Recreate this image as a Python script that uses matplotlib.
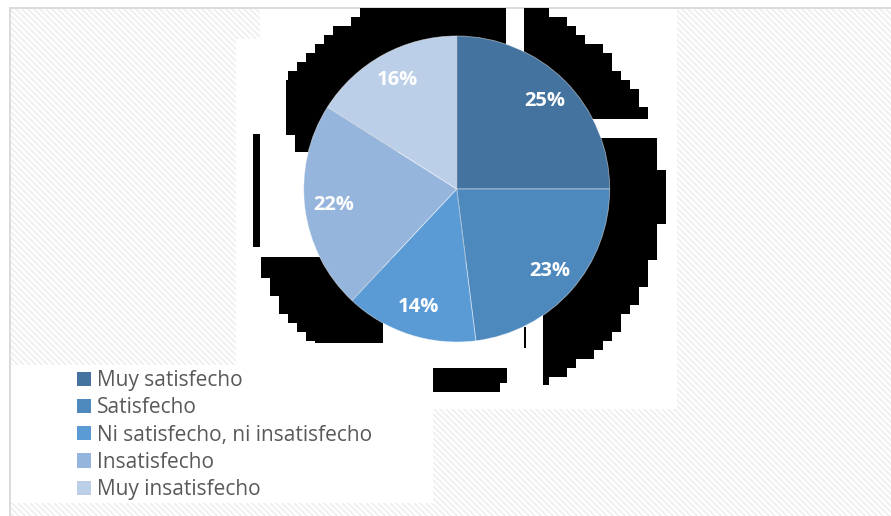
import numpy as np
import matplotlib
matplotlib.use("Agg")
import matplotlib.pyplot as plt

# Survey answers and their shares (percent)
categories = ["Muy satisfecho", "Satisfecho", "Ni satisfecho, ni insatisfecho",
              "Insatisfecho", "Muy insatisfecho"]
shares = [25, 23, 14, 22, 16]
colors = ["#44739F", "#4E89BD", "#5B9BD5", "#95B5DC", "#BCCFE8"]

W, H = 891, 516
fig = plt.figure(figsize=(W / 100, H / 100), dpi=100)

# ---- backdrop: striped chart area, white panels and the blocky dark shadow ----
yy, xx = np.mgrid[0:H, 0:W]
bg = np.full((H, W, 4), 255, dtype=np.uint8)
inside = (xx >= 10) & (yy >= 8)
stripes = ((xx - yy) % 6) < 3
bg[inside & stripes, :3] = 241


def clear(x0, x1, y0, y1):
    bg[y0:y1, x0:x1, :3] = 255


clear(236, 677, 39, 409)
clear(260, 677, 8, 39)
clear(11, 433, 365, 503)

# frame lines
bg[7:9, 9:, :3] = 219
bg[7:, 9:11, :3] = 219

# stepped shadow ring around the pie
step = 9
bx = (xx // step) * step + step / 2
by = ((yy - 8) // step) * step + 8 + step / 2
shadow = (bx - 456) ** 2 + (by - 198) ** 2 <= 207 ** 2
shadow &= (yy >= 8) & (xx <= 677)
shadow &= ~((xx < 286) & (yy < 257))
shadow &= ~((yy >= 135) & (yy < 152) & (xx < 295))
shadow &= ~((yy >= 152) & (yy < 257) & (xx < 456))
shadow &= ~((xx >= 506) & (xx < 524) & (yy < 189))
shadow &= ~((yy >= 119) & (yy < 138) & (xx > 456))
shadow &= ~((xx >= 383) & (xx < 543) & (yy > 260))
shadow &= ~((yy > 342) & (xx < 543))
shadow &= ~(yy > 384)
shadow[134:247, 253:260] = True
shadow[368:383, 433:507] = True
shadow[383:392, 433:500] = True
shadow[327:348, 524:526] = True
bg[shadow, :3] = 0

fig.figimage(bg, xo=0, yo=0, origin="upper", zorder=-1,
             interpolation="nearest", resample=False)

# ---- pie ----
cx, cy, r = 456.7, 189.0, 153.0
ax = fig.add_axes([(cx - r) / W, (H - cy - r) / H, 2 * r / W, 2 * r / H])
ax.patch.set_alpha(0)
wedges, _, autotexts = ax.pie(
    shares, colors=colors, startangle=90, counterclock=False,
    autopct=lambda p: f"{p:.0f}%", pctdistance=0.81,
    wedgeprops=dict(edgecolor=(1, 1, 1, 0.5), linewidth=0.6),
    textprops=dict(color="white", fontsize=14.5, fontweight="bold",
                   family="Open Sans"),
)
ax.set_xlim(-1, 1)
ax.set_ylim(-1, 1)
ax.set_aspect("equal")
ax.axis("off")

# ---- legend ----
handles = [plt.Rectangle((0, 0), 1, 1, facecolor=c, edgecolor="none") for c in colors]
fig.legend(
    handles, categories, loc="upper left",
    bbox_to_anchor=(77 / W, 1 - 370 / H), frameon=False,
    borderpad=0, borderaxespad=0, handlelength=0.67, handleheight=0.67,
    handletextpad=0.3, labelspacing=0.3,
    prop=dict(family="Open Sans", size=15), labelcolor="#595959",
)

fig.savefig("out.png", dpi=100)
